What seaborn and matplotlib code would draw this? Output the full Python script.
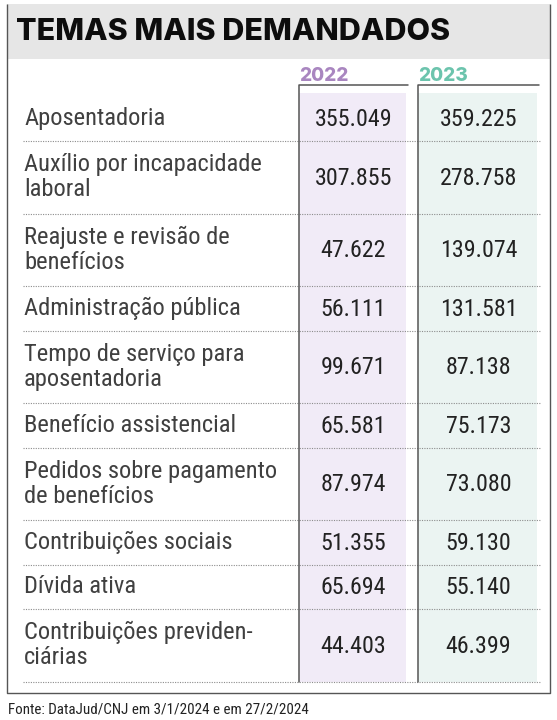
import matplotlib
matplotlib.use("Agg")
import matplotlib.pyplot as plt
from matplotlib import font_manager as fm
import seaborn as sns

titulo = "TEMAS MAIS DEMANDADOS"
anos = ["2022", "2023"]
temas = [
    "Aposentadoria",
    "Auxílio por incapacidade\nlaboral",
    "Reajuste e revisão de\nbenefícios",
    "Administração pública",
    "Tempo de serviço para\naposentadoria",
    "Benefício assistencial",
    "Pedidos sobre pagamento\nde benefícios",
    "Contribuições sociais",
    "Dívida ativa",
    "Contribuições previden-\nciárias",
]
valores_2022 = [355049, 307855, 47622, 56111, 99671, 65581, 87974, 51355, 65694, 44403]
valores_2023 = [359225, 278758, 139074, 131581, 87138, 75173, 73080, 59130, 55140, 46399]
fonte = "Fonte: DataJud/CNJ em 3/1/2024 e em 27/2/2024"

sns.set_theme(style="white")

# condensed face for body text
lista = fm.fontManager.ttflist
nomes = {f.name for f in lista}
cond = None
for n in ["Roboto Condensed", "Liberation Sans Narrow", "Open Sans Condensed"]:
    if n in nomes:
        cond = dict(family=n)
        break
if cond is None:
    cond = dict(family="Roboto")

# heavy face for title / years
pesos = {f.weight for f in lista if f.name == "Inter"}
if 800 in pesos:
    pesado = dict(family="Inter", weight=800)
elif pesos:
    pesado = dict(family="Inter", weight="bold")
else:
    pesado = dict(family="Open Sans", weight="bold")

PT = 0.72  # points per pixel at dpi 100
W, H = 557, 720
fig = plt.figure(figsize=(W / 100, H / 100), dpi=100)
ax = fig.add_axes([0, 0, 1, 1])
ax.set_xlim(0, W)
ax.set_ylim(H, 0)
ax.axis("off")

borda = "#555555"
# header band and outer box
ax.fill_between([6.5, 550], 4, 59, color="#e6e6e6", lw=0)
ax.plot([6.5, 6.5, 550, 550], [4, 693, 693, 4], color=borda, lw=1.0, solid_capstyle="butt")
tit = ax.text(16, 39.5, titulo, fontsize=26 * PT, color="#0d0d0d", va="baseline", ha="left", **pesado)

# stretch title towards the reference width
fig.canvas.draw()
larg = tit.get_window_extent().width
tit.set_fontsize(min(26 * 462 / larg, 30.5) * PT)

# row layout from number of text lines
topo = 96.5
limites = [topo]
for t in temas:
    n = t.count("\n") + 1
    limites.append(limites[-1] + 44.5 + 28 * (n - 1))
centros = [(a + b) / 2 for a, b in zip(limites[:-1], limites[1:])]

colunas = [(299, 407.5, "#f1ebf7", "#a986c0"), (418, 539, "#ebf4f2", "#6cc4ad")]
for (x0, x1, fundo, cor), ano, vals in zip(colunas, anos, [valores_2022, valores_2023]):
    ax.fill_between([x0, x1 - 2], 93, limites[-1], color=fundo, lw=0, zorder=0)
    ax.plot([x0, x0, x1], [limites[-1], 84.5, 84.5], color=borda, lw=1.1, zorder=3)
    ax.text(x0, 81, ano, color=cor, fontsize=19 * PT, ha="left", va="baseline", **pesado)
    xc = (x0 + x1) / 2
    for yc, v in zip(centros, vals):
        ax.text(xc, yc + 1, f"{v:,}".replace(",", "."), fontsize=24 * PT, color="#222222",
                ha="center", va="center", **cond)

for yc, t in zip(centros, temas):
    ax.text(24, yc, t, fontsize=24.5 * PT, color="#404040", ha="left", va="center",
            linespacing=1.12, **cond)

ax.hlines(limites[1:], 23, 540, colors="#8c8c8c", linestyles=(0, (1, 1.2)), lw=0.8, zorder=2)

ax.text(8, 713, fonte, fontsize=15 * PT, color="#222222", ha="left", va="baseline", **cond)

fig.savefig("out.png", dpi=100)
